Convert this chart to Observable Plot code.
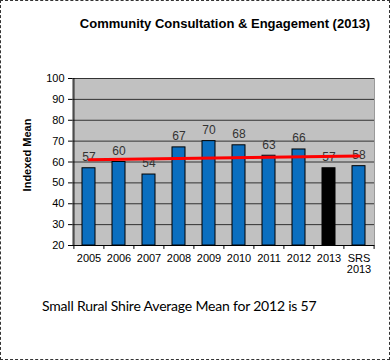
<!DOCTYPE html>
<html><head><meta charset="utf-8">
<script src="https://cdn.jsdelivr.net/npm/d3@7"></script>
<script src="https://cdn.jsdelivr.net/npm/@observablehq/plot@0.6"></script>
<style>
html,body{margin:0;padding:0;background:#fff}
#wrap{position:relative;width:390px;height:361px;overflow:hidden;background:#fff}
#border{position:absolute;left:0;top:0;width:390px;height:360px;box-sizing:border-box;border:1px dashed #333;pointer-events:none}
#title{position:absolute;left:75px;top:15px;width:300px;text-align:center;font:bold 13px "Liberation Sans",Arial,sans-serif;color:#000;line-height:18px;white-space:nowrap}
#ylab{position:absolute;left:-33px;top:147px;width:120px;text-align:center;font:bold 11px "Liberation Sans",Arial,sans-serif;line-height:16px;transform:rotate(-90deg);color:#000}
#caption{position:absolute;left:42px;top:296px;font:14px Lato,"Open Sans",sans-serif;letter-spacing:-0.2px;line-height:20px;color:#000;white-space:nowrap}
#chart{position:absolute;left:0;top:0}
</style></head>
<body>
<div id="wrap">
  <div id="chart"></div>
  <div id="title">Community Consultation &amp; Engagement (2013)</div>
  <div id="ylab">Indexed Mean</div>
  <div id="caption">Small Rural Shire Average Mean for 2012 is 57</div>
  <div id="border"></div>
</div>
<script>
const categories = ["2005","2006","2007","2008","2009","2010","2011","2012","2013","SRS 2013"];
const values = [57,60,54,67,70,68,63,66,57,58];
const yTicks = [20,30,40,50,60,70,80,90,100];
const trendCategories = ["2005","SRS 2013"];
const trendValues = [61.1,62.9];
const highlight = "2013";

const rows = categories.map((c,i)=>({cat:c, value:values[i]}));
const trendRows = trendCategories.map((c,i)=>({cat:c, value:trendValues[i]}));

const plot = Plot.plot({
  width:390, height:361,
  marginTop:78, marginBottom:116, marginLeft:72, marginRight:16,
  style:{fontFamily:"'Liberation Sans', Arial, sans-serif", fontSize:"11px", color:"#000", background:"transparent", overflow:"visible"},
  x:{domain:categories, paddingInner:0.57, paddingOuter:0.285, axis:null, label:null},
  y:{domain:[20,100], ticks:yTicks, axis:null, label:null},
  marks:[
    Plot.frame({fill:"#c2c2c2", stroke:"#9a9a9a"}),
    Plot.ruleY(yTicks.slice(1), {stroke:"#333", strokeWidth:1}),
    Plot.barY(rows, {x:"cat", y1:20, y2:"value", fill:d=>d.cat===highlight?"#000":"#0b6fc0", stroke:"#000", strokeWidth:1}),
    Plot.text(rows, {x:"cat", y:"value", text:d=>String(d.value), dy:-11, fill:"#333", fontSize:12}),
    Plot.line(trendRows, {x:"cat", y:"value", stroke:"#ff0000", strokeWidth:3}),
    Plot.ruleY([20], {stroke:"#000"}),
    Plot.ruleX([categories[0]], {y1:20, y2:100, dx:-15.1, stroke:"#000"}),
    Plot.ruleX(categories, {y1:20, y2:18.1, dx:-15.1, stroke:"#000"}),
    Plot.ruleX([categories[categories.length-1]], {y1:20, y2:18.1, dx:15.1, stroke:"#000"}),
    Plot.axisY({ticks:yTicks, tickSize:4, tickPadding:4, fontSize:11, label:null}),
    Plot.axisX({tickSize:0, tickPadding:9, fontSize:11, label:null, tickFormat:d=>d.replace(" ","\n")})
  ]
});
document.getElementById("chart").appendChild(plot);

// dotted texture for the plot background
const ns="http://www.w3.org/2000/svg";
const defs=document.createElementNS(ns,"defs");
defs.innerHTML='<pattern id="bgdots" width="2" height="2" patternUnits="userSpaceOnUse"><rect width="2" height="2" fill="#b6b6b6"/><rect width="1" height="1" fill="#e2e2e2"/></pattern>';
plot.insertBefore(defs, plot.firstChild);
const fr = plot.querySelector('[aria-label="frame"]');
if (fr) {
  const r = fr.tagName.toLowerCase()==="rect" ? fr : fr.querySelector("rect");
  if (r) r.setAttribute("fill","url(#bgdots)");
}
</script>
</body></html>
